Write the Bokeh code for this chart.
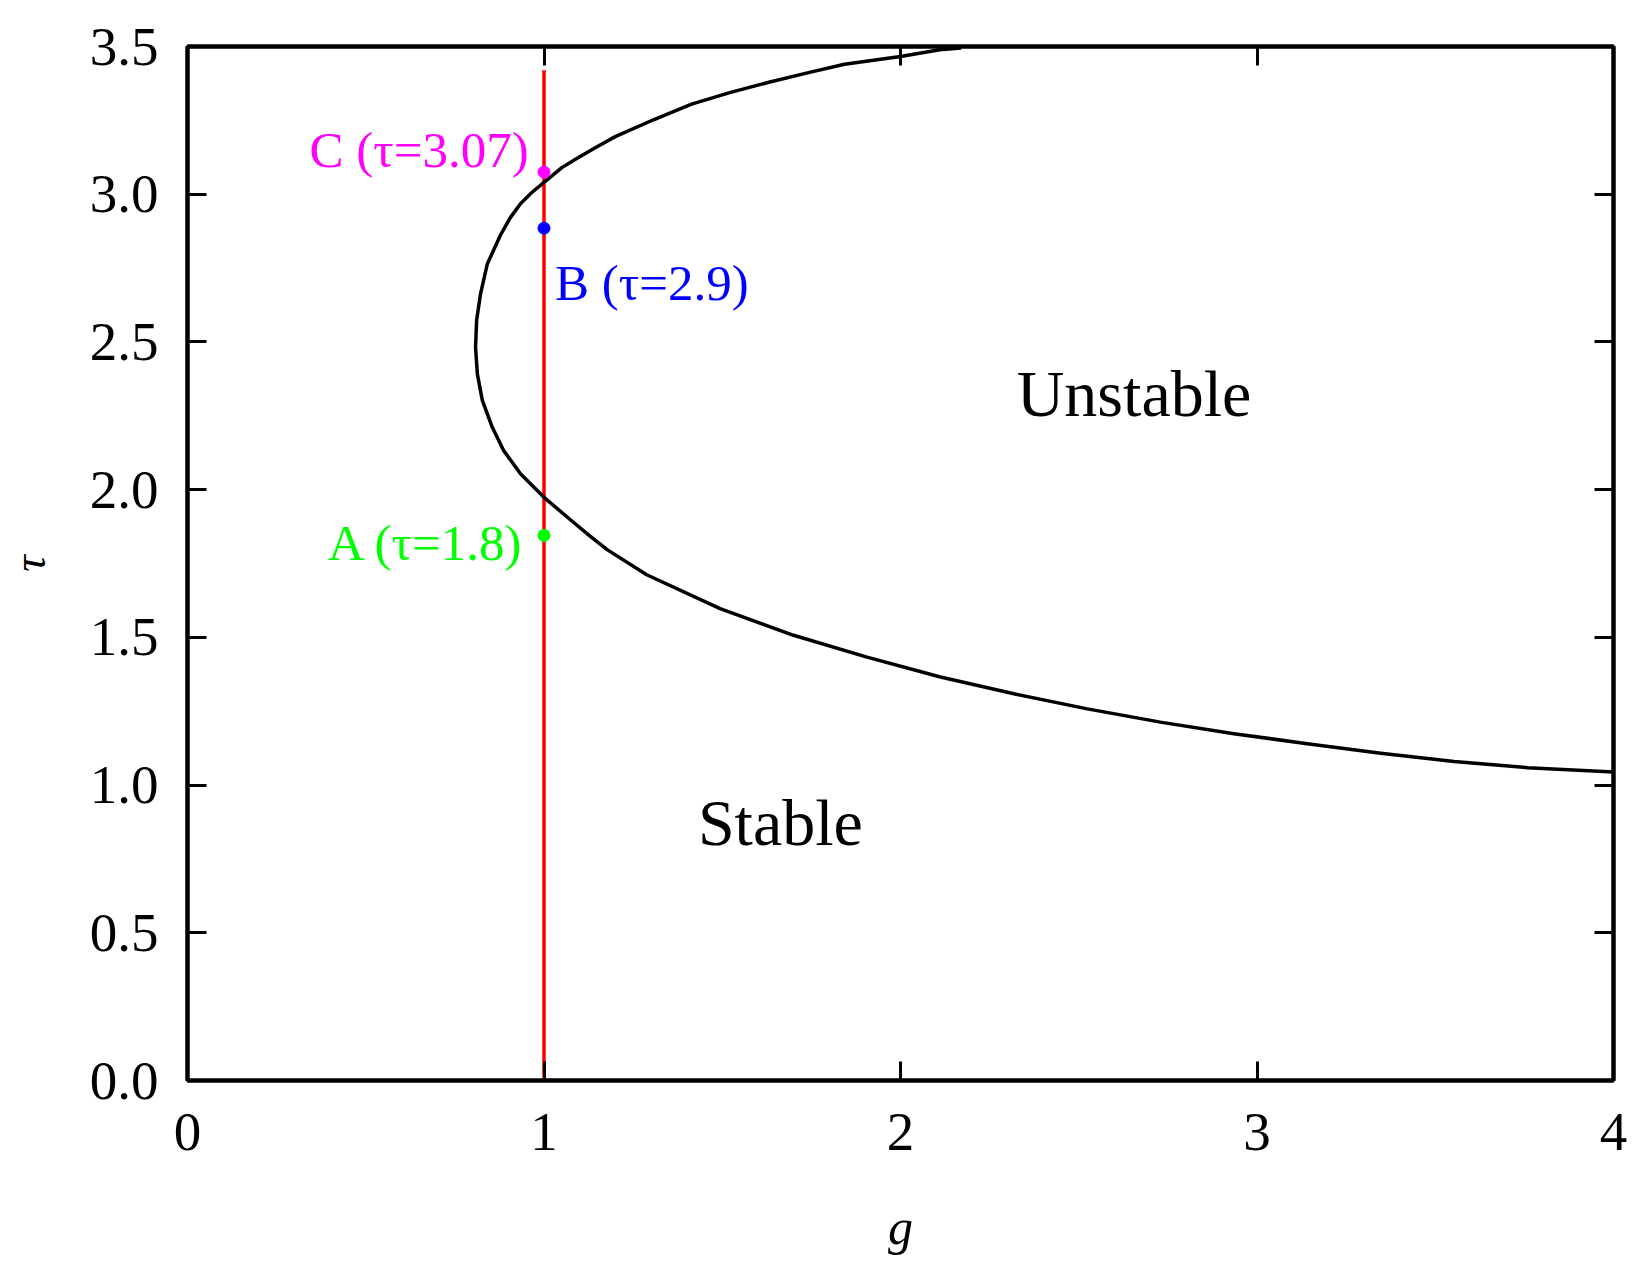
from bokeh.plotting import figure
from bokeh.models import LinearAxis, FixedTicker, Range1d, PrintfTickFormatter, CustomJSTickFormatter
from bokeh.core.properties import value
from bokeh.embed import file_html
from bokeh.resources import INLINE

# ---- data ----
g_curve = [2.17, 2.11, 2.0, 1.843, 1.736, 1.628, 1.521, 1.414, 1.307, 1.2, 1.14, 1.093,
           1.05, 1.0, 0.965, 0.934, 0.905, 0.878, 0.841, 0.822, 0.811, 0.808, 0.813,
           0.827, 0.855, 0.887, 0.934, 1.0, 1.074, 1.124, 1.177, 1.288, 1.494, 1.7,
           1.906, 2.112, 2.318, 2.524, 2.729, 2.935, 3.141, 3.347, 3.553, 3.759, 4.0]
tau_curve = [3.495, 3.489, 3.466, 3.44, 3.41, 3.378, 3.344, 3.305, 3.252, 3.195, 3.155, 3.122,
             3.09, 3.04, 3.005, 2.968, 2.92, 2.862, 2.764, 2.663, 2.573, 2.482, 2.392,
             2.302, 2.211, 2.132, 2.054, 1.974, 1.898, 1.848, 1.797, 1.712, 1.597, 1.507,
             1.433, 1.366, 1.309, 1.258, 1.213, 1.174, 1.14, 1.108, 1.08, 1.059, 1.044]

line_g = [1.0, 1.0]
line_tau = [0.0, 3.42]

point_names = ["A (τ=1.8)", "B (τ=2.9)", "C (τ=3.07)"]
point_g = [1.0, 1.0, 1.0]
point_tau = [1.845, 2.885, 3.075]
point_colors = ["#00FF00", "#0000FF", "#FF00FF"]

region_names = ["Unstable", "Stable"]

x_ticks = [0, 1, 2, 3, 4]
y_ticks = [0.0, 0.5, 1.0, 1.5, 2.0, 2.5, 3.0, 3.5]

FONT = "Liberation Serif"

p = figure(width=1632, height=1268, x_range=Range1d(0, 4), y_range=Range1d(0, 3.5),
           output_backend="svg", toolbar_location=None,
           min_border_left=187, min_border_right=19, min_border_top=46, min_border_bottom=188)
p.grid.visible = False
p.background_fill_color = "white"
p.border_fill_color = "white"
p.outline_line_color = "black"
p.outline_line_width = 4

def style_axis(ax, labels=True):
    ax.axis_line_width = 4
    ax.axis_line_color = "black"
    ax.major_tick_in = 19
    ax.major_tick_out = 0
    ax.major_tick_line_width = 3
    ax.major_tick_line_color = "black"
    ax.minor_tick_line_color = None
    ax.major_label_text_font = FONT
    ax.major_label_text_color = "black"
    if labels:
        ax.major_label_text_font_size = "55px"
    else:
        ax.major_label_text_font_size = "0px"
        ax.major_label_standoff = 0
        ax.formatter = CustomJSTickFormatter(code="return ''")

xa = p.xaxis[0]
ya = p.yaxis[0]
xa.ticker = FixedTicker(ticks=x_ticks)
ya.ticker = FixedTicker(ticks=y_ticks)
xa.formatter = PrintfTickFormatter(format="%d")
ya.formatter = PrintfTickFormatter(format="%.1f")
style_axis(xa)
style_axis(ya)
xa.major_label_standoff = 33
ya.major_label_standoff = 29
xa.axis_label = "g"
ya.axis_label = "τ"
for ax in (xa, ya):
    ax.axis_label_text_font = FONT
    ax.axis_label_text_font_style = "italic"
    ax.axis_label_text_color = "black"
xa.axis_label_text_font_size = "50px"
ya.axis_label_text_font_size = "46px"
xa.axis_label_standoff = 46
ya.axis_label_standoff = 32

top = LinearAxis(ticker=FixedTicker(ticks=x_ticks))
right = LinearAxis(ticker=FixedTicker(ticks=y_ticks))
style_axis(top, labels=False)
style_axis(right, labels=False)
p.add_layout(top, "above")
p.add_layout(right, "right")

# red vertical line
p.line(line_g, line_tau, line_color="#FF0000", line_width=3.5)
# boundary curve
p.line(g_curve, tau_curve, line_color="black", line_width=3.5, line_join="round")
# points
p.scatter(point_g, point_tau, marker="circle", size=12, fill_color=point_colors,
          line_color=point_colors)

# point labels
p.text(x=[0.945], y=[1.818], text=[point_names[0]], text_color=point_colors[0],
       text_font=value(FONT), text_font_size=value("51px"), text_align="right",
       text_baseline="alphabetic")
p.text(x=[1.031], y=[2.70], text=[point_names[1]], text_color=point_colors[1],
       text_font=value(FONT), text_font_size=value("51px"), text_align="left",
       text_baseline="alphabetic")
p.text(x=[0.957], y=[3.15], text=[point_names[2]], text_color=point_colors[2],
       text_font=value(FONT), text_font_size=value("51px"), text_align="right",
       text_baseline="alphabetic")

# region labels
p.text(x=[2.655, 1.663], y=[2.325, 0.873], text=region_names, text_color="black",
       text_font=value(FONT), text_font_size=value("66px"), text_align="center",
       text_baseline="alphabetic")

open("out.html", "w").write(file_html(p, INLINE))
